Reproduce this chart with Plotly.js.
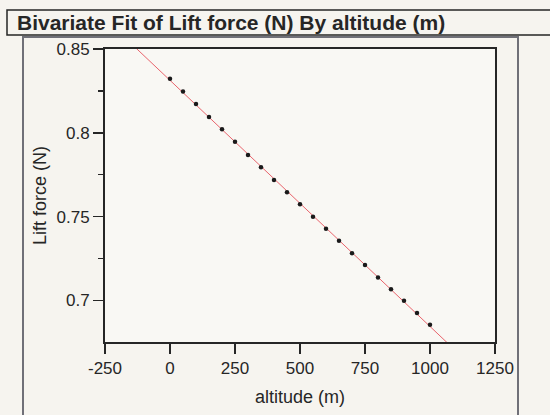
<!DOCTYPE html>
<html>
<head>
<meta charset="utf-8">
<script src="https://cdn.plot.ly/plotly-3.0.1.min.js"></script>
<style>
  html, body { margin: 0; padding: 0; background: #f6f4ef; }
  #chart { width: 550px; height: 415px; }
</style>
</head>
<body>
<div id="chart"></div>
<script>
// Data
const altitude = [0, 50, 100, 150, 200, 250, 300, 350, 400, 450, 500,
                  550, 600, 650, 700, 750, 800, 850, 900, 950, 1000];
const liftForce = [0.8323, 0.8246, 0.8172, 0.8095, 0.8021, 0.7946, 0.7868,
                   0.7795, 0.7719, 0.7646, 0.7574, 0.7499, 0.7427, 0.7356,
                   0.7282, 0.7211, 0.7137, 0.7066, 0.6998, 0.6925, 0.6855];
const xTickVals = [-250, 0, 250, 500, 750, 1000, 1250];
const xTickLabels = ['-250', '0', '250', '500', '750', '1000', '1250'];
const yTickVals = [0.7, 0.75, 0.8, 0.85];
const yTickLabels = ['0.7', '0.75', '0.8', '0.85'];
const chartTitle = 'Bivariate Fit of Lift force (N) By altitude (m)';
const xTitle = 'altitude (m)';
const yTitle = 'Lift force (N)';

// Least-squares linear fit of the data
const n = altitude.length;
const mx = altitude.reduce((a, b) => a + b, 0) / n;
const my = liftForce.reduce((a, b) => a + b, 0) / n;
let sxy = 0, sxx = 0;
for (let i = 0; i < n; i++) {
  sxy += (altitude[i] - mx) * (liftForce[i] - my);
  sxx += (altitude[i] - mx) * (altitude[i] - mx);
}
const slope = sxy / sxx;
const intercept = my - slope * mx;
const fitX = [xTickVals[0], xTickVals[xTickVals.length - 1]];
const fitY = fitX.map(x => intercept + slope * x);

const W = 550, H = 415;
const L = 105, R = 55, T = 49, B = 73;
const pw = W - L - R, ph = H - T - B;
const px = v => (v - L) / pw;          // pixel -> paper x
const py = v => (H - B - v) / ph;      // pixel -> paper y

const traces = [
  {
    x: fitX, y: fitY, mode: 'lines', type: 'scatter',
    line: { color: '#e8646c', width: 1 }, hoverinfo: 'skip'
  },
  {
    x: altitude, y: liftForce, mode: 'markers', type: 'scatter',
    marker: { color: '#1a1a1a', size: 4.5 }
  }
];

const fontFam = '"Liberation Sans", Arial, sans-serif';
const ink = '#262626';

const layout = {
  width: W, height: H,
  margin: { l: L, r: R, t: T, b: B, pad: 0 },
  paper_bgcolor: '#f6f4ef',
  plot_bgcolor: '#f9f8f4',
  showlegend: false,
  font: { family: fontFam, color: ink, size: 17 },
  title: {
    text: '<b>' + chartTitle + '</b>',
    xref: 'container', yref: 'container',
    x: 17 / W, xanchor: 'left',
    y: 1 - 23 / H, yanchor: 'middle',
    font: { family: fontFam, size: 21, color: ink }
  },
  xaxis: {
    range: [-250, 1250],
    tickvals: xTickVals, ticktext: xTickLabels,
    ticks: 'outside', ticklen: 10, tickwidth: 1.5, tickcolor: ink,
    showgrid: false, zeroline: false,
    showline: true, linecolor: ink, linewidth: 2, mirror: true,
    tickfont: { size: 17, color: ink },
    title: { text: xTitle, standoff: 13, font: { size: 18, color: ink } }
  },
  yaxis: {
    range: [0.6752, 0.85],
    tickvals: yTickVals, ticktext: yTickLabels,
    ticks: 'outside', ticklen: 10, tickwidth: 1.5, tickcolor: ink,
    minor: { dtick: 0.025, tick0: 0.7, ticks: 'outside', ticklen: 5, tickwidth: 1.5, tickcolor: ink },
    showgrid: false, zeroline: false,
    showline: true, linecolor: ink, linewidth: 2, mirror: true,
    tickfont: { size: 17, color: ink },
    title: { text: yTitle, standoff: 5, font: { size: 18, color: ink } }
  },
  shapes: [
    // outer report frame
    {
      type: 'path', xref: 'paper', yref: 'paper', layer: 'below',
      path: 'M ' + px(23) + ',' + py(425) + ' L ' + px(23) + ',' + py(37) +
            ' L ' + px(518) + ',' + py(37) + ' L ' + px(518) + ',' + py(425),
      line: { color: '#707078', width: 2 }
    },
    // title box
    {
      type: 'rect', xref: 'paper', yref: 'paper', layer: 'below',
      x0: px(7), x1: px(620), y0: py(35), y1: py(10),
      line: { color: ink, width: 1.5 },
      fillcolor: '#f6f4ef'
    }
  ]
};

Plotly.newPlot('chart', traces, layout, { staticPlot: true, displayModeBar: false });
</script>
</body>
</html>
